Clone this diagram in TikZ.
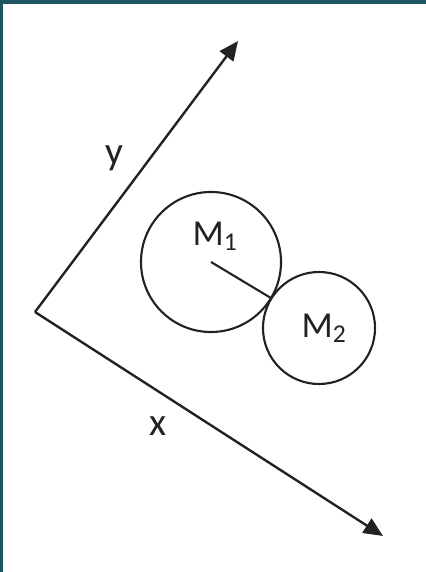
\documentclass[tikz,border=0pt]{standalone}
\usepackage{fontspec}
\setmainfont{Carlito}
\usetikzlibrary{arrows.meta,positioning}
\definecolor{framecol}{HTML}{1D5560}
\definecolor{inkcol}{HTML}{222222}
\begin{document}
\begin{tikzpicture}[
    x=0.025cm, y=-0.025cm,
    mass/.style={draw=inkcol, circle, line width=1.5pt, inner sep=0pt},
    axis/.style={-{Triangle[length=4.8mm, width=4.2mm]}, draw=inkcol, fill=inkcol, line width=1.7pt},
    lbl/.style={text=inkcol, font=\fontsize{26}{28}\selectfont, inner sep=0pt}
]
\useasboundingbox (0,0) rectangle (426,572);
% frame strips of the slide
\fill[framecol] (0,0) rectangle (3,572);
\fill[framecol] (0,0) rectangle (426,4);
% axes
\coordinate (o) at (35,312);
\coordinate (ytip) at (238,41);
\coordinate (xtip) at (383,536);
\draw[axis] (o) -- (ytip);
\draw[axis] (o) -- (xtip);
\node[lbl, font=\fontsize{28}{30}\selectfont] (ylbl) at (114,158) {y};
\node[lbl, font=\fontsize{28}{30}\selectfont] (xlbl) at (158,426) {x};
% masses
\node[mass, minimum size=3.5cm] (m1) at (211,262) {};
\node[mass, minimum size=2.8cm] (m2) at (319,328) {};
\node[lbl] (m1lbl) at (215,236) {M\textsubscript{1}};
\node[lbl] (m2lbl) at (324,328) {M\textsubscript{2}};
\coordinate (touch) at (m1.-31);
\draw[inkcol, line width=1.5pt] (m1.center) -- (touch);
\end{tikzpicture}
\end{document}
